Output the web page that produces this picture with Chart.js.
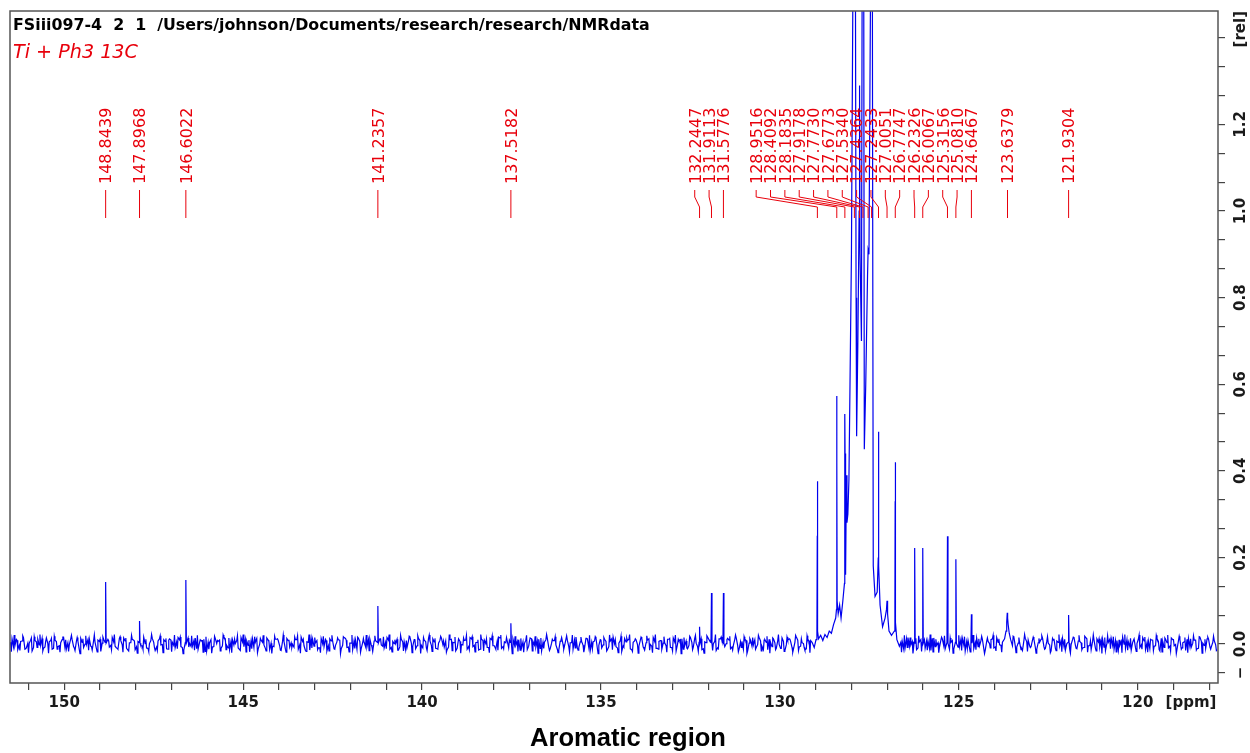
<!DOCTYPE html>
<html><head><meta charset="utf-8">
<script src="https://cdn.jsdelivr.net/npm/chart.js@4.4.1/dist/chart.umd.min.js"></script>
<style>
html,body{margin:0;padding:0;background:#fff;width:1250px;height:753px;overflow:hidden;position:relative}
#c{position:absolute;left:0;top:0}
.txt{position:absolute;white-space:pre;line-height:1}
#hdr{left:13px;top:17px;font-family:"DejaVu Sans";font-weight:bold;font-size:14px;color:#000}
#sub{left:13px;top:43px;font-family:"DejaVu Sans";font-style:italic;font-size:17px;color:#e8000b}
#cap{top:726px;font-family:"Liberation Sans Narrow","Liberation Sans";font-weight:bold;font-size:24px;color:#000}
</style></head><body>
<canvas id="c" width="1250" height="753"></canvas>
<div id="hdr" class="txt">FSiii097-4  2  1  /Users/johnson/Documents/research/research/NMRdata</div>
<div id="sub" class="txt">Ti + Ph3 13C</div>
<div id="cap" class="txt">Aromatic region</div>
<script>
// ---------- data ----------
const xMinPpm = 117.755, xMaxPpm = 151.517;
const yMinRel = -0.090, yMaxRel = 1.462;
const xTickValues = [151,150,149,148,147,146,145,144,143,142,141,140,139,138,137,136,135,134,133,132,131,130,129,128,127,126,125,124,123,122,121,120,119,118];
const xTickLabels = ['150','145','140','135','130','125','120'];
const yTickValues = [-0.0667,0,0.0667,0.1333,0.2,0.2667,0.3333,0.4,0.4667,0.5333,0.6,0.6667,0.7333,0.8,0.8667,0.9333,1.0,1.0667,1.1333,1.2,1.2667,1.3333,1.4];
const yLabelValues = [0,0.2,0.4,0.6,0.8,1.0,1.2];
const yLabelTexts = ['0.0','0.2','0.4','0.6','0.8','1.0','1.2'];

// baseline noise (rel): three interleaved series, each sampled every 0.08 ppm
const noiseStepPpm = 0.08;
const noiseAStartPpm = 151.50;
const baselineNoiseA = [
0.004,-0.006,0.011,-0.003,0.007,-0.012,0.002,0.009,-0.008,0.005,-0.002,0.013,-0.007,0.001,0.008,-0.010,0.006,-0.004,0.010,-0.009,
0.003,0.012,-0.006,0.007,-0.013,0.004,0.000,0.010,-0.005,0.008,-0.011,0.006,0.002,-0.008,0.011,-0.003,0.005,-0.009,0.013,-0.002,
0.007,-0.014,0.003,0.009,-0.006,0.011,-0.004,0.001,-0.010,0.008,0.004,-0.007,0.012,-0.001,0.006,-0.012,0.009,-0.003,0.005,0.010,
-0.008,0.002,0.014,-0.005,0.007,-0.011,0.003,0.008,-0.017,0.004,0.010,-0.006,0.001,0.009,-0.004,0.012,-0.009,0.006,-0.002,0.008,
-0.013,0.005,0.011,-0.003,0.007,-0.008,0.013,-0.001,0.004,-0.010,0.009,0.002,-0.006,0.011,-0.004,0.006,-0.012,0.008,0.003,-0.007,
0.010,-0.002,0.006,-0.015,0.004,0.012,-0.005,0.008,-0.009,0.001,0.011,-0.004,0.007,-0.011,0.005,0.009,-0.003,0.013,-0.007,0.002,
0.008,-0.012,0.006,0.003,-0.006,0.010,-0.002,0.007,-0.010,0.012,-0.005,0.004,0.009,-0.008,0.001,0.011,-0.006,0.005,-0.013,0.007,
0.002,0.010,-0.004,0.008,-0.009,0.006,0.013,-0.003,0.005,-0.011,0.009,-0.001,0.007,-0.007,0.011,0.003,-0.010,0.006,-0.002,0.009,
-0.006,0.012,-0.003,0.004,-0.012,0.008,0.001,-0.008,0.010,-0.004,0.007,0.014,-0.006,0.003,-0.009,0.011,-0.002,0.006,-0.014,0.005,
0.009,-0.005,0.012,-0.002,0.007,-0.010,0.004,0.010,-0.007,0.002,0.008,-0.012,0.006,-0.001,0.011,-0.006,0.003,0.009,-0.009,0.005,
-0.003,0.013,-0.008,0.004,0.007,-0.011,0.010,-0.002,0.006,-0.006,0.012,0.001,-0.009,0.008,-0.004,0.005,0.011,-0.013,0.007,-0.001,
0.009,-0.007,0.003,0.012,-0.005,0.006,-0.010,0.008,0.002,-0.004,0.011,-0.008,0.005,0.000,0.010,-0.012,0.007,-0.003,0.004,0.013,
-0.006,0.008,-0.011,0.003,0.010,-0.002,0.006,-0.009,0.012,-0.004,0.001,0.009,-0.007,0.011,-0.003,0.005,-0.012,0.008,0.002,-0.005,
0.010,-0.001,0.007,-0.013,0.004,0.011,-0.006,0.003,0.008,-0.010,0.006,-0.002,0.012,-0.008,0.004,0.009,-0.005,0.001,-0.011,0.007,
0.012,-0.004,0.005,-0.009,0.010,0.002,-0.007,0.008,-0.003,0.013,-0.010,0.004,0.006,-0.005,0.011,-0.001,0.007,-0.012,0.003,0.009,
-0.008,0.005,0.010,-0.004,0.007,-0.016,0.002,0.011,-0.006,0.008,-0.002,0.004,-0.011,0.012,-0.005,0.006,0.001,-0.009,0.010,-0.003,
0.007,-0.010,0.013,-0.006,0.003,0.009,-0.004,0.006,-0.012,0.008,0.002,-0.007,0.011,-0.002,0.005,-0.009,0.010,0.003,-0.006,0.008,
-0.011,0.006,0.001,0.012,-0.007,0.004,-0.003,0.010,-0.009,0.007,0.011,-0.005,0.002,-0.013,0.008,0.005,-0.004,0.009,-0.008,0.003,
0.011,-0.006,0.006,-0.002,0.013,-0.010,0.004,0.008,-0.005,0.001,-0.012,0.010,-0.003,0.007,0.003,-0.008,0.012,-0.004,0.006,-0.010,
0.005,0.009,-0.007,0.002,0.011,-0.003,0.008,-0.014,0.006,0.000,0.010,-0.006,0.004,-0.009,0.012,-0.002,0.007,0.003,-0.011,0.009,
-0.004,0.006,0.013,-0.008,0.003,-0.005,0.010,-0.001,0.008,-0.012,0.005,0.011,-0.006,0.002,0.009,-0.010,0.006,-0.003,0.012,-0.007,
0.004,-0.002
];
const noiseBStartPpm = 151.46;
const baselineNoiseB = [
0.012,-0.004,-0.013,0.006,0.015,-0.009,0.002,-0.016,0.008,0.011,-0.003,-0.010,0.014,0.005,-0.012,0.009,-0.006,0.003,0.016,-0.011,
-0.002,0.010,-0.015,0.007,0.013,-0.008,-0.001,0.012,-0.014,0.004,0.009,-0.017,0.011,0.002,-0.007,0.015,-0.005,-0.012,0.008,0.014,
-0.010,0.003,0.011,-0.013,0.006,-0.004,0.016,-0.009,0.001,0.013,-0.015,0.007,-0.002,0.010,-0.011,0.012,0.004,-0.008,0.015,-0.006,
-0.014,0.009,0.002,-0.005,0.014,-0.012,0.008,0.011,-0.016,0.003,-0.007,0.013,0.006,-0.010,0.016,-0.003,-0.013,0.010,0.001,-0.009,
0.015,-0.006,0.007,-0.018,0.012,0.004,-0.011,0.009,-0.002,0.014,-0.013,-0.005,0.011,0.008,-0.015,0.006,0.013,-0.007,-0.001,0.010,
-0.012,0.016,-0.004,0.005,-0.014,0.011,0.003,-0.009,0.013,-0.006,-0.016,0.012,0.007,-0.003,0.010,-0.011,0.015,-0.008,0.002,-0.013,
0.009,0.014,-0.010,0.004,-0.006,0.012,-0.017,0.008,0.013,-0.002,-0.009,0.015,-0.012,0.006,0.001,-0.014,0.011,0.005,-0.008,0.016,
-0.005,-0.011,0.013,-0.003,0.009,-0.015,0.007,0.012,-0.010,0.002,0.014,-0.007,-0.013,0.010,0.004,-0.016,0.012,-0.001,0.008,-0.012,
0.015,-0.006,0.003,-0.014,0.011,0.009,-0.008,0.013,-0.004,-0.012,0.016,-0.010,0.005,0.007,-0.015,0.012,-0.003,0.010,-0.009,0.001,
-0.013,0.014,0.006,-0.007,0.011,-0.016,0.004,0.013,-0.011,0.008,-0.002,-0.014,0.015,-0.005,0.009,0.003,-0.012,0.016,-0.008,0.006,
-0.010,0.012,-0.015,0.005,0.014,-0.003,-0.009,0.011,-0.013,0.007,0.016,-0.006,0.002,-0.017,0.013,0.008,-0.011,0.004,0.010,-0.005,
0.013,-0.014,0.009,-0.001,0.015,-0.010,0.006,-0.012,0.003,0.011,-0.008,0.014,-0.016,0.007,0.012,-0.004,-0.011,0.015,-0.007,0.002,
0.010,-0.013,0.005,0.016,-0.009,0.001,-0.015,0.012,0.008,-0.006,0.013,-0.011,-0.003,0.014,-0.012,0.006,0.011,-0.016,0.009,-0.002,
-0.008,0.015,-0.005,0.010,-0.013,0.004,0.012,-0.010,-0.001,0.014,-0.015,0.009,0.006,-0.012,0.016,-0.007,0.003,-0.014,0.011,0.008,
-0.011,0.005,0.013,-0.016,0.010,-0.004,0.015,-0.009,0.002,-0.013,0.012,0.007,-0.010,0.014,-0.003,-0.015,0.011,0.004,-0.008,0.016,
-0.006,0.009,-0.012,0.013,0.003,-0.017,0.014,-0.005,0.008,0.011,-0.014,0.006,-0.009,0.015,-0.002,0.010,-0.013,0.005,0.012,-0.010,
0.007,-0.015,0.014,-0.003,-0.008,0.012,-0.011,0.016,0.004,-0.012,0.009,-0.006,0.013,-0.016,0.008,0.002,-0.010,0.014,-0.004,0.011,
-0.014,0.006,0.010,-0.009,0.015,-0.002,-0.013,0.012,0.005,-0.011,0.016,-0.007,0.003,-0.015,0.013,0.009,-0.006,0.011,-0.012,0.004,
0.014,-0.010,0.002,-0.016,0.012,0.007,-0.005,0.013,-0.014,0.010,-0.001,0.015,-0.011,0.006,-0.009,0.016,-0.004,-0.013,0.009,0.012,
-0.007,0.011,-0.015,0.004,0.013,-0.012,0.008,-0.003,0.016,-0.010,0.005,-0.014,0.012,0.001,-0.008,0.015,-0.013,0.007,0.010,-0.005,
0.013,-0.016,0.006,0.011,-0.009,0.014,-0.004,-0.012,0.010,0.003,-0.015,0.013,-0.007,0.009,-0.011,0.016,0.002,-0.010,0.012,-0.006,
0.008,-0.013
];
const noiseCStartPpm = 151.48;
const baselineNoiseC = [
-0.018,0.021,0.009,-0.015,0.019,-0.011,-0.020,0.014,0.017,-0.008,0.022,-0.016,0.006,-0.021,0.013,0.018,-0.012,-0.019,0.016,0.010,
-0.017,0.020,-0.009,0.015,-0.022,0.012,0.019,-0.014,-0.006,0.021,-0.018,0.011,0.016,-0.020,0.008,-0.013,0.022,-0.010,0.017,-0.019,
0.014,-0.016,0.020,0.007,-0.021,0.018,-0.012,0.011,-0.017,0.022,-0.008,-0.015,0.019,-0.020,0.013,0.009,-0.018,0.021,-0.011,0.016,
-0.022,0.015,-0.007,0.019,-0.014,0.020,0.010,-0.019,0.017,-0.012,-0.021,0.018,0.008,-0.016,0.021,-0.013,0.014,-0.020,0.011,0.019,
-0.015,0.022,-0.018,0.009,-0.011,0.017,-0.020,0.013,0.020,-0.016,0.006,-0.022,0.018,0.012,-0.014,0.021,-0.019,0.010,-0.008,0.016,
0.019,-0.021,0.011,-0.017,0.022,-0.009,0.015,-0.013,-0.020,0.018,0.008,-0.016,0.020,-0.012,0.014,-0.022,0.017,0.009,-0.018,0.021,
-0.010,0.016,-0.019,0.013,0.021,-0.015,-0.007,0.019,-0.021,0.012,0.017,-0.011,0.022,-0.018,0.010,-0.014,0.020,-0.016,0.008,0.018,
-0.020,0.011,0.019,-0.022,0.015,-0.009,0.021,-0.017,0.013,-0.012,0.018,0.007,-0.019,0.022,-0.015,0.016,-0.010,-0.021,0.014,0.020,
-0.013,0.017,-0.018,0.010,0.022,-0.016,0.012,-0.020,0.019,-0.008,-0.014,0.021,-0.011,0.015,0.009,-0.022,0.018,-0.017,0.013,-0.019,
0.020,0.006,-0.016,0.018,-0.021,0.014,-0.010,0.022,-0.015,0.011,0.017,-0.020,0.008,-0.012,0.019,-0.018,0.021,-0.009,-0.014,0.016,
-0.019,0.013,0.020,-0.011,0.017,-0.022,0.009,0.015,-0.016,0.021,-0.013,0.010,-0.020,0.018,-0.007,0.014,0.022,-0.017,0.012,-0.021,
0.016,-0.010,0.019,-0.014,-0.020,0.022,-0.012,0.008,0.017,-0.019,0.013,-0.016,0.021,0.011,-0.022,0.015,-0.009,0.018,-0.013,0.020,
-0.017,0.012,-0.021,0.019,0.007,-0.015,0.022,-0.011,0.016,-0.020,0.010,0.018,-0.014,0.021,-0.018,-0.008,0.017,-0.022,0.013,0.015,
-0.012,0.020,-0.016,0.009,0.018,-0.021,0.014,-0.013,0.022,-0.010,-0.017,0.016,0.011,-0.019,0.020,-0.015,0.012,-0.008,0.019,-0.020,
0.013,0.017,-0.022,0.015,-0.009,0.021,-0.018,0.010,-0.014,0.019,0.016,-0.021,0.008,-0.012,0.022,-0.017,0.014,-0.019,0.011,-0.010,
0.021,-0.015,0.012,-0.020,0.018,0.009,-0.016,0.022,-0.013,0.017,-0.011,-0.019,0.020,-0.008,0.015,-0.022,0.013,0.019,-0.017,0.010,
-0.014,0.022,-0.018,0.011,-0.020,0.016,0.019,-0.012,0.014,-0.021,0.008,0.020,-0.015,0.017,-0.010,-0.018,0.021,-0.013,0.012,0.018,
-0.022,0.014,-0.009,0.020,-0.016,0.012,-0.019,0.021,0.010,-0.014,0.018,-0.020,0.015,-0.011,0.022,-0.017,-0.008,0.016,-0.021,0.013,
0.019,-0.012,0.017,-0.020,0.009,-0.015,0.022,-0.018,0.011,0.014,-0.021,0.016,-0.010,0.020,-0.013,0.018,-0.019,0.007,0.021,-0.016,
0.012,-0.022,0.015,0.019,-0.011,0.017,-0.018,0.010,-0.020,0.022,-0.014,0.013,0.008,-0.017,0.021,-0.012,0.016,-0.019,0.011,-0.015,
0.020,-0.013,-0.018,0.014,0.021,-0.016,0.010,-0.022,0.018,-0.009,0.015,-0.020,0.012,0.019,-0.014,0.017,-0.021,0.011,0.016,-0.012,
0.018,-0.015
];

// isolated sharp peaks (ppm, height in rel)
const peakPpm    = [148.8439,147.8968,146.6022,141.2357,137.5182,132.2447,131.9113,131.5776,126.2326,126.0067,125.3156,125.0810,124.6467,121.9304];
const peakHeight = [0.143,   0.053,   0.148,   0.088,   0.048,   0.040,   0.118,   0.118,   0.222,   0.222,   0.249,   0.196,   0.069,   0.067];

// main cluster trace (ppm, rel); values above the frame are clipped
const clusterPpm = [129.10,129.04,128.99,128.965,128.955,128.952,128.948,128.94,128.92,128.86,128.80,128.74,128.68,128.62,128.56,128.50,128.44,128.418,128.412,128.409,128.405,128.40,128.37,128.33,128.29,128.24,128.195,128.188,128.184,128.178,128.172,128.155,128.14,128.125,128.10,128.07,128.04,128.00,127.96,127.918,127.90,127.87,127.855,127.82,127.785,127.773,127.76,127.72,127.695,127.677,127.66,127.64,127.60,127.55,127.534,127.51,127.46,127.436,127.41,127.39,127.34,127.28,127.25,127.246,127.243,127.238,127.232,127.20,127.13,127.06,127.02,127.005,126.99,126.95,126.88,126.80,126.785,126.778,126.775,126.770,126.765,126.73,126.66];
const clusterVal = [0.004,-0.008,0.010,0.020,0.250,0.376,0.300,0.030,0.012,0.020,0.008,0.022,0.015,0.030,0.025,0.045,0.060,0.080,0.480,0.573,0.420,0.100,0.070,0.090,0.060,0.100,0.140,0.380,0.531,0.440,0.200,0.160,0.390,0.280,0.300,0.380,0.600,0.900,1.500,3.000,2.000,0.800,0.480,0.700,1.000,1.290,0.900,0.700,1.800,3.000,1.800,0.450,0.600,0.850,0.910,0.900,1.600,3.000,1.200,0.180,0.110,0.120,0.200,0.400,0.490,0.380,0.180,0.090,0.040,0.060,0.080,0.100,0.070,0.030,0.020,0.030,0.100,0.330,0.420,0.300,0.050,0.010,-0.005];

// broad peak near 123.64 ppm
const broadPpm = [123.78,123.72,123.68,123.66,123.645,123.635,123.62,123.59,123.55,123.50];
const broadVal = [0.004,0.012,0.030,0.050,0.072,0.060,0.045,0.025,0.010,-0.004];

// peak-pick labels
const labelPpm = [148.8439,147.8968,146.6022,141.2357,137.5182,132.2447,131.9113,131.5776,128.9516,128.4092,128.1835,127.9178,127.7730,127.6773,127.5340,127.4364,127.2433,127.0051,126.7747,126.2326,126.0067,125.3156,125.0810,124.6467,123.6379,121.9304];

// ---------- build spectrum points ----------
const lastC = clusterPpm[clusterPpm.length-1], lastB = broadPpm[broadPpm.length-1];
function covered(p){
  if (p <= clusterPpm[0] && p >= lastC) return true;
  if (p <= broadPpm[0] && p >= lastB) return true;
  return peakPpm.some(q => Math.abs(q - p) < 0.03);
}
const pts = [];
[[baselineNoiseA,noiseAStartPpm],[baselineNoiseB,noiseBStartPpm],[baselineNoiseC,noiseCStartPpm]].forEach(([arr,start])=>{
  arr.forEach((v,i)=>{ const p = +(start - i*noiseStepPpm).toFixed(3); if(!covered(p)) pts.push({x:p,y:v}); });
});
clusterPpm.forEach((p,i)=>pts.push({x:p,y:clusterVal[i]}));
broadPpm.forEach((p,i)=>pts.push({x:p,y:broadVal[i]}));
peakPpm.forEach((p,i)=>{ pts.push({x:p+0.014,y:0.004},{x:p,y:peakHeight[i]},{x:p-0.014,y:0.002}); });
pts.sort((a,b)=>b.x-a.x);

// ---------- annotation plugin ----------
const annot = {
  id:'annot',
  afterDraw(chart){
    const {ctx, chartArea:a, scales:{x,y}} = chart;
    ctx.save();
    ctx.strokeStyle='#555'; ctx.lineWidth=1.5;
    ctx.strokeRect(a.left, a.top, a.right-a.left, a.bottom-a.top);
    ctx.fillStyle='#1a1a1a'; ctx.font='bold 15px "DejaVu Sans"';
    const rot = (txt, px, py) => { ctx.save(); ctx.translate(px, py); ctx.rotate(-Math.PI/2); ctx.textAlign='center'; ctx.textBaseline='alphabetic'; ctx.fillText(txt, 0, 5.5); ctx.restore(); };
    yLabelValues.forEach((v,i)=>rot(yLabelTexts[i], a.right+21, y.getPixelForValue(v)));
    rot('\u2212', a.right+21, y.getPixelForValue(yTickValues[0]));
    rot('[rel]', a.right+21, y.getPixelForValue(1.42));
    ctx.textAlign='center'; ctx.textBaseline='middle';
    ctx.fillText('[ppm]', 1191, 703);
    // peak labels
    const xs = labelPpm.map(p=>x.getPixelForValue(p));
    const GAP = 14.35, TH = 2*GAP;
    const groups=[]; let cur=[0];
    for(let i=1;i<xs.length;i++){ if(xs[i]-xs[i-1] < TH) cur.push(i); else {groups.push(cur); cur=[i];} }
    groups.push(cur);
    const pos = xs.slice();
    groups.forEach(g=>{
      if(g.length<2) return;
      let tight=false; for(let k=1;k<g.length;k++) if(xs[g[k]]-xs[g[k-1]]<GAP) tight=true;
      if(!tight) return;
      const last = xs[g[g.length-1]];
      g.forEach((idx,k)=>{ pos[idx] = last - (g.length-1-k)*GAP; });
    });
    ctx.strokeStyle='#e8000b'; ctx.fillStyle='#e8000b'; ctx.lineWidth=1;
    ctx.font='16px "DejaVu Sans"';
    labelPpm.forEach((p,i)=>{
      ctx.save(); ctx.translate(pos[i], 184); ctx.rotate(-Math.PI/2);
      ctx.textAlign='left'; ctx.textBaseline='alphabetic';
      ctx.fillText(p.toFixed(4), 0, 5.8); ctx.restore();
      ctx.beginPath();
      if (Math.abs(pos[i]-xs[i])<0.5){ ctx.moveTo(xs[i],190); ctx.lineTo(xs[i],218); }
      else { ctx.moveTo(pos[i],190); ctx.lineTo(pos[i],197); ctx.lineTo(xs[i],207); ctx.lineTo(xs[i],218); }
      ctx.stroke();
    });
    ctx.restore();
  }
};

new Chart(document.getElementById('c'), {
  type:'line',
  data:{ datasets:[{ data: pts, borderColor:'#0000ee', borderWidth:1.2, pointRadius:0, tension:0, fill:false }] },
  options:{
    responsive:false, animation:false, events:[],
    layout:{ padding:{ left:10, top:11, right:0, bottom:0 } },
    plugins:{ legend:{display:false}, tooltip:{enabled:false} },
    scales:{
      x:{ type:'linear', reverse:true, min:xMinPpm, max:xMaxPpm, position:'bottom',
          afterBuildTicks: s => { s.ticks = xTickValues.map(v=>({value:v})); },
          ticks:{ autoSkip:false, maxRotation:0, minRotation:0, padding:4, color:'#1a1a1a',
                  font:{family:'DejaVu Sans', size:15, weight:'bold'},
                  callback: v => xTickLabels.includes(String(v)) ? String(v) : '' },
          grid:{ drawOnChartArea:false, drawTicks:true, tickLength:7, color:'#444', lineWidth:1.2 },
          border:{ display:false },
          afterFit: s => { s.height = 70; } },
      y:{ type:'linear', position:'right', min:yMinRel, max:yMaxRel,
          afterBuildTicks: s => { s.ticks = yTickValues.map(v=>({value:v})); },
          ticks:{ callback: () => '', padding:0 },
          grid:{ drawOnChartArea:false, drawTicks:true, tickLength:7, color:'#444', lineWidth:1.2 },
          border:{ display:false },
          afterFit: s => { s.width = 32; } }
    }
  },
  plugins:[annot]
});

function fitW(el, w){ const r = el.getBoundingClientRect(); const fs = parseFloat(getComputedStyle(el).fontSize); el.style.fontSize = (fs*w/r.width)+'px'; }
function placeY(el, cy){ const r = el.getBoundingClientRect(); el.style.top = (cy - r.height/2)+'px'; }
const hdr=document.getElementById('hdr'), sub=document.getElementById('sub'), cap=document.getElementById('cap');
fitW(hdr, 637); placeY(hdr, 25);
fitW(sub, 125); placeY(sub, 52);
fitW(cap, 196); placeY(cap, 738);
cap.style.left = (628 - cap.getBoundingClientRect().width/2)+'px';
</script>
</body></html>
